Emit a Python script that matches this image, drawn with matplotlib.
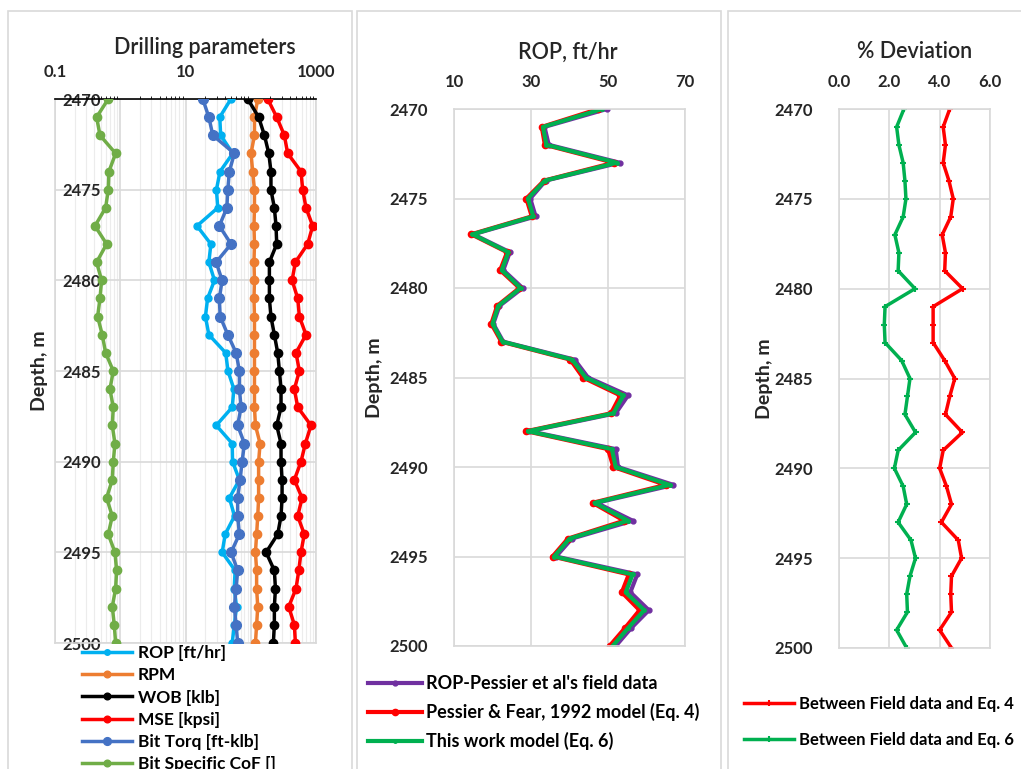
import numpy as np
import matplotlib
matplotlib.use("Agg")
import matplotlib.pyplot as plt
from matplotlib.patches import Rectangle
from matplotlib.ticker import FixedLocator, NullFormatter

plt.rcParams['font.family'] = ['Lato', 'DejaVu Sans']

# depth, m
depth = np.arange(2470, 2501)

# ROP, ft/hr (middle panel)
rop_field = [49.7, 33.5, 34.6, 53.0, 33.8, 29.8, 31.2, 15.0, 24.5, 22.8, 27.8,
             21.8, 20.2, 22.8, 41.3, 44.8, 55.2, 52.0, 29.6, 52.0, 52.6,
             67.0, 47.0, 56.4, 40.6, 36.5, 57.6, 55.8, 60.6, 56.0, 52.0]
rop_pessier = [47.5, 32.8, 33.6, 51.5, 33.4, 28.8, 30.2, 14.5, 23.8, 22.0, 27.0,
               21.2, 19.7, 22.3, 40.2, 43.5, 53.2, 50.8, 28.8, 50.0, 51.4,
               65.0, 46.0, 54.2, 39.6, 35.6, 55.4, 53.6, 58.2, 54.4, 50.4]
rop_thiswork = [48.5, 33.1, 34.0, 52.3, 33.6, 29.2, 30.6, 14.8, 24.1, 22.4, 27.3,
                21.5, 20.0, 22.6, 40.7, 44.2, 54.0, 51.4, 29.2, 51.0, 52.0,
                66.0, 46.5, 55.2, 40.0, 36.0, 56.4, 54.6, 59.4, 55.2, 51.2]

# drilling parameters (left panel, log scale)
rpm = [128, 114, 114, 101, 107, 114, 114, 112, 114, 112, 114,
       112, 114, 114, 114, 114, 114, 114, 118, 139, 132,
       132, 132, 128, 123, 118, 123, 123, 128, 123, 118]
wob = [90, 132, 162, 189, 204, 204, 230, 244, 250, 193, 193,
       193, 204, 230, 259, 275, 291, 291, 250, 291, 291,
       302, 302, 291, 259, 172, 230, 239, 230, 230, 222]
mse = [182, 250, 327, 368, 589, 625, 703, 890, 745, 483, 430,
       525, 556, 703, 494, 556, 466, 525, 838, 687, 589,
       466, 611, 525, 661, 589, 545, 494, 382, 466, 483]
torq = [18.4, 22.8, 26.2, 56, 47, 44.5, 43, 33, 50, 29.5, 36.4,
        33, 34, 44.5, 59.7, 67, 67, 71, 63, 80, 73.6,
        68.7, 63, 63, 67, 50, 63, 59.7, 56, 59.7, 63]
cof = [0.655, 0.434, 0.489, 0.849, 0.671, 0.655, 0.597, 0.41, 0.618, 0.434, 0.518,
       0.489, 0.45, 0.53, 0.597, 0.782, 0.695, 0.782, 0.755, 0.829, 0.782,
       0.755, 0.618, 0.755, 0.655, 0.829, 0.88, 0.849, 0.755, 0.81, 0.849]

# % deviation (right panel)
dev_eq4 = [4.40, 4.14, 4.23, 4.14, 4.37, 4.54, 4.44, 4.10, 4.23, 4.20, 4.91,
           3.74, 3.74, 3.74, 4.20, 4.60, 4.40, 4.23, 4.90, 4.14, 4.00,
           4.27, 4.47, 4.07, 4.74, 4.87, 4.47, 4.44, 4.47, 4.00, 4.47]
dev_eq6 = [2.58, 2.29, 2.38, 2.55, 2.62, 2.66, 2.55, 2.22, 2.38, 2.35, 3.02,
           1.83, 1.80, 1.83, 2.49, 2.82, 2.72, 2.62, 3.04, 2.35, 2.20,
           2.55, 2.69, 2.35, 2.86, 3.04, 2.82, 2.69, 2.72, 2.29, 2.69]

W, H = 1021, 769
GRID = '#d9d9d9'
TXT = '#262626'

fig = plt.figure(figsize=(W / 100, H / 100), dpi=100)


def fx(px):
    return px / W


def fy(py):
    return 1 - py / H


# chart area borders
for x0, x1 in [(8, 352), (357, 721), (728, 1030)]:
    fig.patches.append(Rectangle((fx(x0), fy(800)), fx(x1 - x0), (800 - 11) / H,
                                 transform=fig.transFigure, fill=False,
                                 edgecolor=GRID, lw=1.2))


def add_ax(l, t, r, b):
    return fig.add_axes([fx(l), fy(b), fx(r - l), (b - t) / H])


def style_depth(ax):
    ax.set_ylim(2500, 2470)
    ax.set_yticks(np.arange(2470, 2501, 5))
    ax.xaxis.tick_top()
    ax.tick_params(length=0, labelsize=12, labelcolor=TXT)
    for lab in ax.get_xticklabels() + ax.get_yticklabels():
        lab.set_fontweight('bold')
    ax.grid(True, color=GRID, lw=1.2)
    ax.set_axisbelow(True)
    for s in ax.spines.values():
        s.set_color(GRID)
        s.set_linewidth(1.2)


def title(x, y, s):
    fig.text(fx(x), fy(y), s, ha='center', va='center', fontsize=15.5,
             color=TXT, fontweight='semibold')


# ---- left panel: drilling parameters
ax1 = add_ax(55, 99, 316, 643)
ax1.set_xscale('log')
ax1.set_xlim(0.1, 1000)
ax1.xaxis.set_major_locator(FixedLocator([0.1, 1, 10, 100, 1000]))
ax1.set_xticklabels(['0.1', '', '10', '', '1000'])
ax1.xaxis.set_minor_locator(FixedLocator([m * 10.0 ** e for e in range(-1, 3) for m in range(2, 10)]))
ax1.xaxis.set_minor_formatter(NullFormatter())
style_depth(ax1)
ax1.tick_params(axis='x', pad=14)
ax1.tick_params(axis='y', pad=-33)
ax1.grid(True, which='minor', axis='x', color='#ececec', lw=0.8)
ax1.spines['top'].set_color('black')

ax1.plot(rop_field, depth, color='#00b0f0', lw=2.5, marker='o', ms=5, label='ROP [ft/hr]', zorder=3)
ax1.plot(rpm, depth, color='#ed7d31', lw=2.5, marker='o', ms=6, label='RPM', zorder=3)
ax1.plot(wob, depth, color='black', lw=2.5, marker='o', ms=6, label='WOB [klb]', zorder=3)
ax1.plot(mse, depth, color='#ff0000', lw=2.5, marker='o', ms=6, label='MSE [kpsi]', zorder=3)
ax1.plot(torq, depth, color='#4472c4', lw=2.5, marker='o', ms=7, label='Bit Torq [ft-klb]', zorder=3)
ax1.plot(cof, depth, color='#70ad47', lw=2.5, marker='o', ms=6, label='Bit Specific CoF []', zorder=3)
ax1.set_ylabel('Depth, m', fontsize=14, color=TXT)
ax1.yaxis.set_label_coords((48 - 55) / 261, 0.5)
title(205, 47, 'Drilling parameters')
ax1.legend(loc='upper left', bbox_to_anchor=(fx(82), fy(645)), bbox_transform=fig.transFigure,
           frameon=False, handlelength=2.9, handletextpad=0.3,
           labelspacing=0.36, borderaxespad=0, borderpad=0, markerscale=0.8,
           prop={'weight': 'bold', 'size': 12.5})

# ---- middle panel: ROP
ax2 = add_ax(454, 109, 685, 646)
ax2.set_xlim(10, 70)
ax2.set_xticks([10, 30, 50, 70])
style_depth(ax2)
ax2.tick_params(axis='x', pad=14)
ax2.tick_params(axis='y', pad=19)
ax2.plot(rop_field, depth, color='#7030a0', lw=3, marker='o', ms=3.5, label="ROP-Pessier et al's field data")
ax2.plot(rop_pessier, depth, color='#ff0000', lw=3, marker='o', ms=4.5, label='Pessier & Fear, 1992 model (Eq. 4)')
ax2.plot(rop_thiswork, depth, color='#00b050', lw=3, marker='o', ms=2.5, label='This work model (Eq. 6)')
ax2.set_ylabel('Depth, m', fontsize=14, color=TXT)
ax2.yaxis.set_label_coords((383 - 454) / 231, 0.5)
title(568, 52, 'ROP, ft/hr')
ax2.legend(loc='upper left', bbox_to_anchor=(fx(368), fy(675)), bbox_transform=fig.transFigure,
           frameon=False, handlelength=3.0, handletextpad=0.2,
           labelspacing=0.6, borderaxespad=0, borderpad=0,
           prop={'weight': 'bold', 'size': 13})

# ---- right panel: % deviation
ax3 = add_ax(839, 109, 990, 648)
ax3.set_xlim(0, 6)
ax3.set_xticks([0, 2, 4, 6])
ax3.set_xticklabels(['0.0', '2.0', '4.0', '6.0'])
style_depth(ax3)
ax3.tick_params(axis='x', pad=14)
ax3.tick_params(axis='y', pad=19)
ax3.plot(dev_eq4, depth, color='#ff0000', lw=2.5, marker='+', ms=5, mew=1.5, label='Between Field data and Eq. 4')
ax3.plot(dev_eq6, depth, color='#00b050', lw=2.5, marker='+', ms=5, mew=1.5, label='Between Field data and Eq. 6')
ax3.set_ylabel('Depth, m', fontsize=14, color=TXT)
ax3.yaxis.set_label_coords((773 - 839) / 151, 0.5)
title(915, 52, '% Deviation')
ax3.legend(loc='upper left', bbox_to_anchor=(fx(744), fy(696)), bbox_transform=fig.transFigure,
           frameon=False, handlelength=3.0, handletextpad=0.3,
           labelspacing=1.2, borderaxespad=0, borderpad=0,
           prop={'weight': 'bold', 'size': 12})

for ax in (ax1, ax2, ax3):
    ax.yaxis.label.set_fontweight('bold')

fig.savefig('out.png', dpi=100)
